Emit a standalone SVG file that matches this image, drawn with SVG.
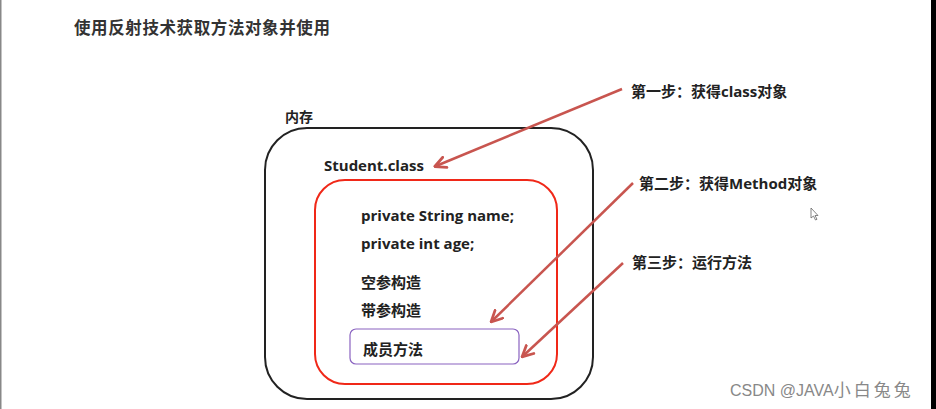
<svg xmlns="http://www.w3.org/2000/svg" width="936" height="409" viewBox="0 0 936 409">
<defs>
<style>
text{font-family:"Open Sans","Noto Sans CJK SC",sans-serif;font-weight:700;fill:#222}
.t{font-size:15px}
.c{font-size:15px}
.arrow{stroke:#c8554f;stroke-width:2.5;fill:none;marker-end:url(#ah)}
</style>
<marker id="ah" viewBox="0 0 10 10" refX="8" refY="5" markerWidth="5.5" markerHeight="5.5" orient="auto" markerUnits="strokeWidth">
<path d="M1,1 L9,5 L1,9" fill="none" stroke="#c8554f" stroke-width="2" stroke-linejoin="round" stroke-linecap="round"/>
</marker>
</defs>
<rect width="936" height="409" fill="#fff"/>
<rect x="0" y="0" width="1.5" height="409" fill="#888"/>
<rect x="931" y="0" width="5" height="409" fill="#000"/>
<text x="74" y="34" style="font-size:16.5px;fill:#333;letter-spacing:0.6px">使用反射技术获取方法对象并使用</text>
<g id="memory">
<text style="font-size:14px" x="285" y="122">内存</text>
<rect x="265" y="128" width="328" height="271" rx="42" fill="none" stroke="#222" stroke-width="2"/>
</g>
<g id="student-class">
<text class="t" x="324" y="171">Student.class</text>
<rect x="315" y="180" width="242" height="204" rx="30" fill="none" stroke="#f02818" stroke-width="2"/>
<text class="t" x="361" y="221">private String name;</text>
<text class="t" x="361" y="249">private int age;</text>
<text class="c" x="361" y="288">空参构造</text>
<text class="c" x="361" y="316">带参构造</text>
</g>
<g id="method">
<rect x="350" y="329" width="169" height="35" rx="6" fill="none" stroke="#8a63c0" stroke-width="1.2"/>
<text class="c" x="363" y="355">成员方法</text>
</g>
<g id="step1"><text class="t" x="631" y="97">第一步：获得class对象</text></g>
<g id="step2"><text class="t" x="639" y="189">第二步：获得Method对象</text></g>
<g id="step3"><text class="t" x="632" y="268">第三步：运行方法</text></g>
<g id="connectors">
<line class="arrow" x1="622" y1="89" x2="436" y2="166"/>
<line class="arrow" x1="633" y1="183" x2="492" y2="321"/>
<line class="arrow" x1="623" y1="263" x2="523" y2="356"/>
</g>
<text x="730" y="396" style="font-family:'Liberation Sans','Noto Sans CJK SC',sans-serif;font-weight:400;font-size:16px;fill:#888">CSDN @JAVA<tspan style="font-size:17px;letter-spacing:3px">小白兔兔</tspan></text>
<path d="M811,208 L811,218 L813.5,216 L815.5,220 L817,219.3 L815,215.5 L818,215.5 Z" fill="#fff" stroke="#666" stroke-width="0.8"/>
</svg>
